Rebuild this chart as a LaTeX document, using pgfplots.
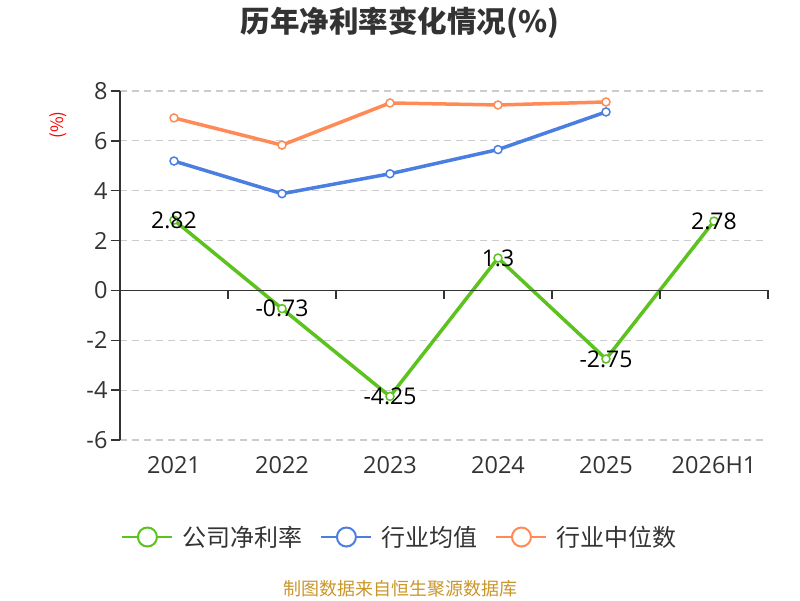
\documentclass[border=0pt]{standalone}
\usepackage{pgfplots}
\pgfplotsset{compat=1.18}
\usepackage{fontspec}
\setmainfont{Open Sans}
\newfontfamily\cjk{Noto Sans CJK SC}
\definecolor{cgreen}{HTML}{5BC21E}
\definecolor{cblue}{HTML}{4A7EE0}
\definecolor{corange}{HTML}{FF8A55}
\definecolor{axgrey}{HTML}{333333}
\definecolor{gridgrey}{HTML}{CCCCCC}
\definecolor{srcgold}{HTML}{C9962B}
\begin{document}
\begin{tikzpicture}[x=1pt,y=1pt]
\path[use as bounding box] (0,0) rectangle (800,600);
\node[text=axgrey,font={\cjk\bfseries\fontsize{29.5}{32}\selectfont}] at (400,577) {历年净利率变化情况(\%)};
\node[text=red,rotate=90,font={\cjk\fontsize{17}{19}\selectfont}] at (58,475) {(\%)};
\node[text=srcgold,font={\cjk\fontsize{18}{20}\selectfont}] at (400,11) {制图数据来自恒生聚源数据库};
\begin{axis}[
  at={(120pt,160pt)}, anchor=south west,
  width=648pt, height=349pt, scale only axis,
  xmin=-0.5, xmax=5.5, ymin=-6, ymax=8,
  axis x line*=bottom, axis y line*=left,
  x axis line style={draw=none},
  y axis line style={draw=axgrey, line width=1.5pt},
  xtick={0,1,2,3,4,5},
  xticklabels={2021,2022,2023,2024,2025,2026H1},
  ytick={-6,-4,-2,0,2,4,6,8},
  yticklabels={-6,-4,-2,0,2,4,6,8},
  major x tick style={draw=none},
  major y tick style={draw=axgrey, line width=1.5pt},
  tick align=outside,
  major tick length=9pt,
  ymajorgrids=true,
  y grid style={gridgrey, dashed, line width=1.2pt, dash pattern=on 7pt off 5pt},
  tick label style={font={\fontsize{23.5}{26}\selectfont}, text=axgrey},
  xticklabel style={yshift=-4pt},
  clip=false,
  legend columns=3,
  legend style={at={(0.432,-0.278)}, anchor=center, draw=none, fill=none,
    font={\cjk\fontsize{24}{26}\selectfont}, text=axgrey,
    /tikz/every odd column/.append style={column sep=7pt},
    /tikz/every even column/.append style={column sep=16pt}},
  legend image code/.code={
    \draw[#1, line width=2pt, mark=none] (0pt,0pt) -- (50pt,0pt);
    \draw[#1, line width=2pt, fill=white, mark=none] (25pt,0pt) circle (9.5pt);
  },
]
\addplot[cgreen, line width=3.5pt, mark=*, mark size=4pt,
  mark options={fill=white, line width=1.5pt},
  nodes near coords, point meta=explicit symbolic,
  every node near coord/.style={anchor=center, text=black, font={\fontsize{23}{25}\selectfont}}]
  coordinates {(0,2.82)[2.82] (1,-0.73)[-0.73] (2,-4.25)[-4.25] (3,1.3)[1.3] (4,-2.75)[-2.75] (5,2.78)[2.78]};
\addlegendentry{公司净利率}
\addplot[cblue, line width=3.5pt, mark=*, mark size=4pt,
  mark options={fill=white, line width=1.5pt}]
  coordinates {(0,5.19) (1,3.88) (2,4.68) (3,5.65) (4,7.16)};
\addlegendentry{行业均值}
\addplot[corange, line width=3.5pt, mark=*, mark size=4pt,
  mark options={fill=white, line width=1.5pt}]
  coordinates {(0,6.92) (1,5.83) (2,7.52) (3,7.44) (4,7.56)};
\addlegendentry{行业中位数}
\draw[axgrey, line width=1.5pt] (axis cs:-0.5,0) -- (axis cs:5.5,0);
\pgfplotsinvokeforeach{0.5,1.5,2.5,3.5,4.5,5.5}{
  \draw[axgrey, line width=1.5pt] (axis cs:#1,0) -- ++(0pt,-9pt);
}
\end{axis}
\end{tikzpicture}
\end{document}
